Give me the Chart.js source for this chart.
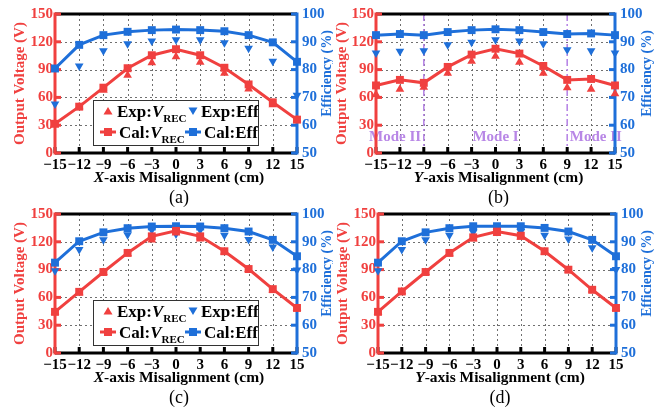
<!DOCTYPE html>
<html>
<head>
<meta charset="utf-8">
<script src="https://cdn.jsdelivr.net/npm/chart.js@4/dist/chart.umd.min.js"></script>
<style>
  html, body { margin: 0; padding: 0; background: #fff; }
  #wrap { position: relative; width: 666px; height: 415px; overflow: hidden; }
  canvas { position: absolute; }
</style>
</head>
<body>
<div id="wrap">
  <canvas id="ca" width="333" height="207" style="left:0;top:0"></canvas>
  <canvas id="cb" width="333" height="207" style="left:333px;top:0"></canvas>
  <canvas id="cc" width="333" height="215" style="left:0;top:200px"></canvas>
  <canvas id="cd" width="333" height="215" style="left:333px;top:200px"></canvas>
</div>
<script>
// ---------- data ----------
const positions = [-15, -12, -9, -6, -3, 0, 3, 6, 9, 12, 15];
const voltTicks = [0, 30, 60, 90, 120, 150];
const effTicks = [50, 60, 70, 80, 90, 100];

// (a) X-axis misalignment
const calV_a   = [31.5, 50, 70.5, 91.5, 105.5, 112, 105.5, 92, 74, 54.7, 36];
const expV_a   = [31, 50, 67.6, 84, 97.5, 104, 98, 86, 69, 52, 36];
const calEff_a = [80.4, 88.9, 92.4, 93.6, 94.2, 94.4, 94.2, 93.8, 92.4, 89.8, 82.8];
const expEff_a = [67.6, 81.3, 86.8, 89.3, 90.3, 90.7, 90.7, 89.7, 87.7, 83, 70.8];

// (b) Y-axis misalignment
const calV_b   = [72.9, 78.9, 75.7, 92.9, 106.2, 112.5, 107.3, 93.9, 78.9, 79.9, 72.9];
const expV_b   = [63, 68.7, 71, 86, 99, 104.5, 98, 86, 70.5, 68.7, 64];
const calEff_b = [92.4, 92.8, 92.4, 93.5, 94.2, 94.5, 94.2, 93.5, 92.8, 93, 92.4];
const expEff_b = [86, 86.6, 86.8, 88.9, 89.8, 90.7, 90.3, 89.3, 87.1, 86.8, 86];

// (c) X-axis misalignment
const calV_c   = [44.4, 66, 87.4, 108, 125.9, 131.8, 125.9, 109.8, 90.6, 68.9, 48.6];
const expV_c   = [44, 65, 87, 107, 122, 129.4, 123, 109, 90, 68, 48];
const calEff_c = [82.5, 90.2, 93.4, 94.9, 95.5, 95.6, 95.5, 94.9, 93.7, 90.7, 84.8];
const expEff_c = [79.6, 87.2, 90.7, 92.5, 94.2, 92.8, 94.2, 92.4, 90.8, 88.1, 79.9];

// (d) Y-axis misalignment
const calV_d   = [44.4, 66.4, 87.4, 108, 124.8, 131, 126.6, 109.8, 89.9, 68.2, 48.6];
const expV_d   = [44, 66, 87, 107, 123, 129, 124.8, 109, 89.5, 68, 48];
const calEff_d = [82.5, 90.2, 93.4, 94.9, 95.6, 95.6, 95.6, 95, 93.7, 90.7, 84.8];
const expEff_d = [79.6, 87.2, 90.7, 92.4, 93.4, 93.7, 93.7, 92.4, 91, 87.9, 80];

const modeLines = [-9, 9];
const modeLabels = [{text: 'Mode II', at: -12.6}, {text: 'Mode I', at: 0}, {text: 'Mode II', at: 12.6}];

// ---------- styles ----------
const RED = '#F0403F';
const BLUE = '#1E6FD9';
const PURPLE = '#B887E6';
const SERIF = '"Liberation Serif", "Times New Roman", serif';

function pts(arr) { return positions.map((x, i) => ({x: x, y: arr[i]})); }
function fmt(v) { return v < 0 ? '\u2212' + Math.abs(v) : String(v); }

function makeChart(id, cfg) {
  const canvas = document.getElementById(id);
  const H = canvas.height;
  const G = cfg.geo; // left, right, top, bottom of plot area within canvas

  const panelPlugin = {
    id: 'panel_' + id,
    beforeDatasetsDraw(chart) {
      const ctx = chart.ctx;
      const xs = chart.scales.x, ys = chart.scales.y, ys1 = chart.scales.y1;
      const a = chart.chartArea;
      ctx.save();
      // dotted grid
      ctx.setLineDash([2, 3]);
      ctx.strokeStyle = '#707070';
      ctx.lineWidth = 1;
      positions.forEach(p => {
        if (p === positions[0] || p === positions[positions.length - 1]) return;
        const px = Math.round(xs.getPixelForValue(p)) + 0.5;
        ctx.beginPath(); ctx.moveTo(px, a.top); ctx.lineTo(px, a.bottom); ctx.stroke();
      });
      voltTicks.forEach(v => {
        if (v === voltTicks[0] || v === voltTicks[voltTicks.length - 1]) return;
        const py = Math.round(ys.getPixelForValue(v)) + 0.5;
        ctx.beginPath(); ctx.moveTo(a.left, py); ctx.lineTo(a.right, py); ctx.stroke();
      });
      // mode lines
      if (cfg.modes) {
        ctx.setLineDash([7, 3, 2, 3]);
        ctx.strokeStyle = PURPLE;
        ctx.lineWidth = 1.6;
        modeLines.forEach(m => {
          const px = xs.getPixelForValue(m);
          ctx.beginPath(); ctx.moveTo(px, a.top); ctx.lineTo(px, a.bottom); ctx.stroke();
        });
        ctx.setLineDash([]);
        ctx.fillStyle = PURPLE;
        ctx.font = 'bold 15px ' + SERIF;
        ctx.textAlign = 'center';
        ctx.textBaseline = 'middle';
        const ly = ys.getPixelForValue(17);
        modeLabels.forEach(l => ctx.fillText(l.text, xs.getPixelForValue(l.at), ly));
      }
      ctx.setLineDash([]);
      // frame: top / bottom black
      ctx.lineWidth = 3;
      ctx.strokeStyle = '#000';
      ctx.beginPath(); ctx.moveTo(a.left, a.top); ctx.lineTo(a.right, a.top); ctx.stroke();
      ctx.beginPath(); ctx.moveTo(a.left, a.bottom); ctx.lineTo(a.right, a.bottom); ctx.stroke();
      // bottom ticks inward
      positions.forEach(p => {
        const px = xs.getPixelForValue(p);
        ctx.beginPath(); ctx.moveTo(px, a.bottom); ctx.lineTo(px, a.bottom - 6); ctx.stroke();
      });
      // left red axis
      ctx.strokeStyle = RED;
      ctx.beginPath(); ctx.moveTo(a.left, a.top - 1.5); ctx.lineTo(a.left, a.bottom + 1.5); ctx.stroke();
      voltTicks.forEach(v => {
        const py = ys.getPixelForValue(v);
        ctx.beginPath(); ctx.moveTo(a.left, py); ctx.lineTo(a.left + 6, py); ctx.stroke();
      });
      // right blue axis
      ctx.strokeStyle = BLUE;
      ctx.beginPath(); ctx.moveTo(a.right, a.top - 1.5); ctx.lineTo(a.right, a.bottom + 1.5); ctx.stroke();
      effTicks.forEach(v => {
        const py = ys1.getPixelForValue(v);
        ctx.beginPath(); ctx.moveTo(a.right, py); ctx.lineTo(a.right - 6, py); ctx.stroke();
      });
      ctx.restore();
    },
    afterDatasetsDraw(chart) {
      if (!cfg.legend) return;
      const ctx = chart.ctx;
      ctx.save();
      const bx = 93, by = 100, bw = 165, bh = 45;
      ctx.fillStyle = '#fff';
      ctx.fillRect(bx, by, bw, bh);
      ctx.strokeStyle = '#333';
      ctx.lineWidth = 1;
      ctx.strokeRect(bx + 0.5, by + 0.5, bw, bh);
      const r1 = 111, r2 = 132;
      // markers
      ctx.fillStyle = RED;
      ctx.beginPath(); ctx.moveTo(108, r1 - 4); ctx.lineTo(112.5, r1 + 3.5); ctx.lineTo(103.5, r1 + 3.5); ctx.closePath(); ctx.fill();
      ctx.fillStyle = BLUE;
      ctx.beginPath(); ctx.moveTo(193, r1 + 4); ctx.lineTo(197.5, r1 - 3.5); ctx.lineTo(188.5, r1 - 3.5); ctx.closePath(); ctx.fill();
      ctx.lineWidth = 3;
      ctx.strokeStyle = RED; ctx.fillStyle = RED;
      ctx.beginPath(); ctx.moveTo(100, r2); ctx.lineTo(116, r2); ctx.stroke();
      ctx.fillRect(104, r2 - 4, 8, 8);
      ctx.strokeStyle = BLUE; ctx.fillStyle = BLUE;
      ctx.beginPath(); ctx.moveTo(185, r2); ctx.lineTo(201, r2); ctx.stroke();
      ctx.fillRect(189, r2 - 4, 8, 8);
      // texts
      ctx.fillStyle = '#000';
      ctx.textBaseline = 'alphabetic';
      ctx.textAlign = 'left';
      function vrec(prefix, x, y) {
        ctx.font = 'bold 17px ' + SERIF;
        ctx.fillText(prefix, x, y);
        x += ctx.measureText(prefix).width;
        ctx.font = 'italic bold 17px ' + SERIF;
        ctx.fillText('V', x, y);
        x += ctx.measureText('V').width;
        ctx.font = 'bold 11px ' + SERIF;
        ctx.fillText('REC', x, y + 5);
      }
      vrec('Exp:', 117, r1 + 6);
      vrec('Cal:', 119, r2 + 6);
      ctx.font = 'bold 17px ' + SERIF;
      ctx.fillText('Exp:Eff', 201, r1 + 6);
      ctx.fillText('Cal:Eff', 204, r2 + 6);
      ctx.restore();
    },
    afterDraw(chart) {
      const ctx = chart.ctx;
      const a = chart.chartArea;
      ctx.save();
      // y-axis titles
      ctx.textAlign = 'center';
      ctx.textBaseline = 'middle';
      ctx.fillStyle = RED;
      ctx.font = 'bold 15px ' + SERIF;
      ctx.translate(cfg.ytx, (a.top + a.bottom) / 2);
      ctx.rotate(-Math.PI / 2);
      ctx.fillText('Output Voltage (V)', 0, 0);
      ctx.restore();
      ctx.save();
      ctx.textAlign = 'center';
      ctx.textBaseline = 'middle';
      ctx.fillStyle = BLUE;
      ctx.font = 'bold 14px ' + SERIF;
      ctx.translate(cfg.y1tx, (a.top + a.bottom) / 2 - 10);
      ctx.rotate(-Math.PI / 2);
      ctx.fillText('Efficiency (%)', 0, 0);
      ctx.restore();
      // x-axis title with italic letter
      ctx.save();
      ctx.fillStyle = '#000';
      ctx.textBaseline = 'middle';
      ctx.textAlign = 'left';
      const f1 = 'italic bold 15.5px ' + SERIF, f2 = 'bold 15.5px ' + SERIF;
      const rest = '-axis Misalignment (cm)';
      ctx.font = f1; const w1 = ctx.measureText(cfg.axis).width;
      ctx.font = f2; const w2 = ctx.measureText(rest).width;
      const cx = (a.left + a.right) / 2 + 3;
      let x0 = cx - (w1 + w2) / 2;
      const ty = a.bottom + 24.5;
      ctx.font = f1; ctx.fillText(cfg.axis, x0, ty);
      ctx.font = f2; ctx.fillText(rest, x0 + w1, ty);
      // caption
      ctx.textAlign = 'center';
      ctx.font = '18px ' + SERIF;
      ctx.fillText(cfg.caption, cx, a.bottom + 45);
      ctx.restore();
    }
  };

  const calV = cfg.data[0], expV = cfg.data[1], calEff = cfg.data[2], expEff = cfg.data[3];

  return new Chart(canvas, {
    type: 'line',
    data: {
      datasets: [
        { label: 'Cal:V_REC', data: pts(calV), yAxisID: 'y', borderColor: RED, backgroundColor: RED,
          borderWidth: 3, pointStyle: 'rect', pointRadius: 5.6, pointBorderWidth: 0, tension: 0 },
        { label: 'Cal:Eff', data: pts(calEff), yAxisID: 'y1', borderColor: BLUE, backgroundColor: BLUE,
          borderWidth: 3, pointStyle: 'rect', pointRadius: 5.6, pointBorderWidth: 0, tension: 0 },
        { label: 'Exp:V_REC', data: pts(expV), yAxisID: 'y', showLine: false, borderColor: RED, backgroundColor: RED,
          pointStyle: 'triangle', pointRadius: 5, pointBorderWidth: 0 },
        { label: 'Exp:Eff', data: pts(expEff), yAxisID: 'y1', showLine: false, borderColor: BLUE, backgroundColor: BLUE,
          pointStyle: 'triangle', pointRotation: 180, pointRadius: 5, pointBorderWidth: 0 }
      ]
    },
    options: {
      responsive: false,
      animation: false,
      devicePixelRatio: 1,
      clip: false,
      layout: { padding: { top: G.top, left: 0, right: 0, bottom: 0 } },
      plugins: { legend: { display: false }, tooltip: { enabled: false } },
      elements: { line: { borderJoinStyle: 'miter' } },
      scales: {
        x: {
          type: 'linear', min: -15, max: 15,
          grid: { display: false, drawTicks: false }, border: { display: false },
          ticks: { stepSize: 3, autoSkip: false, maxRotation: 0, padding: 3, color: '#000',
                   font: { family: SERIF, size: 15, weight: 'bold' }, callback: v => fmt(v) },
          afterFit: s => { s.height = H - G.bottom; }
        },
        y: {
          position: 'left', min: 0, max: 150,
          grid: { display: false, drawTicks: false }, border: { display: false },
          ticks: { stepSize: 30, padding: 2, color: RED, font: { family: SERIF, size: 15, weight: 'bold' } },
          afterFit: s => { s.width = G.left; }
        },
        y1: {
          position: 'right', min: 50, max: 100,
          grid: { display: false, drawTicks: false }, border: { display: false },
          ticks: { stepSize: 10, padding: 5, color: BLUE, font: { family: SERIF, size: 15, weight: 'bold' } },
          afterFit: s => { s.width = 333 - G.right; }
        }
      }
    },
    plugins: [panelPlugin]
  });
}

makeChart('ca', { geo: {left: 55, right: 297, top: 11, bottom: 153}, data: [calV_a, expV_a, calEff_a, expEff_a],
  axis: 'X', caption: '(a)', legend: true, modes: false, ytx: 20, y1tx: 327 });
makeChart('cb', { geo: {left: 43, right: 282, top: 11, bottom: 153}, data: [calV_b, expV_b, calEff_b, expEff_b],
  axis: 'Y', caption: '(b)', legend: false, modes: true, ytx: 9, y1tx: 314 });
makeChart('cc', { geo: {left: 55, right: 297, top: 10, bottom: 153}, data: [calV_c, expV_c, calEff_c, expEff_c],
  axis: 'X', caption: '(c)', legend: true, modes: false, ytx: 20, y1tx: 327 });
makeChart('cd', { geo: {left: 45, right: 283, top: 10, bottom: 153}, data: [calV_d, expV_d, calEff_d, expEff_d],
  axis: 'Y', caption: '(d)', legend: false, modes: false, ytx: 10, y1tx: 314 });
</script>
</body>
</html>
